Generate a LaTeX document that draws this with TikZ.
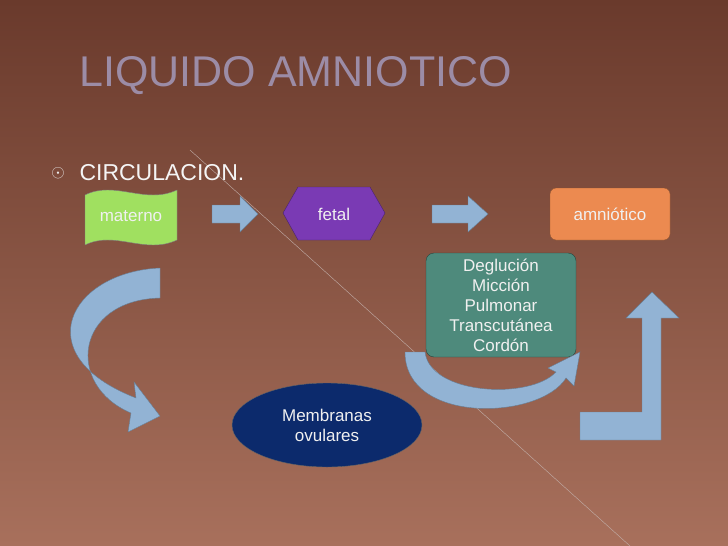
\documentclass[tikz,border=0pt]{standalone}
\usepackage{fontspec}
\setmainfont{Liberation Sans}
\usetikzlibrary{shapes.geometric}
\definecolor{bgtop}{HTML}{6A3A2C}
\definecolor{bgbot}{HTML}{A8705C}
\definecolor{arr}{HTML}{92B3D4}
\definecolor{ttl}{HTML}{9C8CA6}
\definecolor{grn}{HTML}{A0E060}
\definecolor{pur}{HTML}{7A3AB4}
\definecolor{org}{HTML}{EC8A50}
\definecolor{tea}{HTML}{4E8A7C}
\definecolor{nav}{HTML}{0C2A6C}
\begin{document}
\begin{tikzpicture}[x=1pt,y=-1pt,
  lbl/.style={font=\fontsize{17}{20}\selectfont,text=white!88!gray,align=center},
  blk/.style={fill=arr,draw=arr!70!black,line width=0.4pt}]
\useasboundingbox (0,0) rectangle (728,546);
\shade[top color=bgtop,bottom color=bgbot] (0,0) rectangle (728,546);
\draw[white!60!bgtop,line width=0.4pt] (190,150) -- (630,546);
\node[anchor=west,text=ttl,font=\fontsize{43}{45}\selectfont] (title) at (76,76) {LIQUIDO AMNIOTICO};
\node[text=white!85!gray,font=\fontsize{17}{17}\selectfont] (bul) at (58,173) {$\odot$};
\node[anchor=west,text=white!92!gray,font=\fontsize{23}{26}\selectfont] (circ) at (76,173) {CIRCULACION.};
% materno
\fill[grn,draw=black!50] (85,195) .. controls (115,180) and (145,205) .. (177,190) -- (177,240) .. controls (145,255) and (115,230) .. (85,245) -- cycle;
\node[lbl] (mat) at (131,216) {materno};
% fetal
\fill[pur,draw=pur!60!black] (283,213) -- (298,187) -- (370,187) -- (385,213) -- (370,240) -- (298,240) -- cycle;
\node[lbl] (fet) at (334,214) {fetal};
% amniotico
\node[lbl,fill=org,draw=org!60!black,rounded corners=6pt,minimum width=120pt,minimum height=52pt] (amn) at (610,214) {amniótico};
% straight arrows
\fill[blk] (212,205) -- (240,205) -- (240,196) -- (258,214) -- (240,232) -- (240,223) -- (212,223) -- cycle;
\fill[blk] (432,205) -- (468,205) -- (468,196) -- (488,214) -- (468,232) -- (468,223) -- (432,223) -- cycle;
% teal box
\node[lbl,fill=tea,draw=tea!50!black,rounded corners=8pt,minimum width=150pt,minimum height=104pt,inner sep=1pt,font=\fontsize{17}{20}\selectfont] (deg) at (501,305) {Deglución\\Micción\\Pulmonar\\Transcutánea\\Cordón};
% membranas
\node[lbl,ellipse,fill=nav,draw=black!60,minimum width=190pt,minimum height=84pt] (mem) at (327,425) {Membranas\\ovulares};
% curved left arrow
\fill[blk] (160,268) .. controls (70,272) and (25,355) .. (136,398) -- (134,382) -- (160,416) -- (128,432) -- (131,413) .. controls (65,385) and (75,300) .. (160,298) -- cycle;
% middle U arrow
\fill[blk] (405,352) .. controls (405,425) and (540,420) .. (566,378) -- (574,386) -- (580,352) -- (548,368) -- (556,372) .. controls (530,400) and (430,395) .. (425,352) -- cycle;
% right L arrow
\fill[blk] (580,412) -- (642,412) -- (642,318) -- (626,318) -- (652,292) -- (679,318) -- (661,318) -- (661,440) -- (580,440) -- cycle;
\end{tikzpicture}
\end{document}
